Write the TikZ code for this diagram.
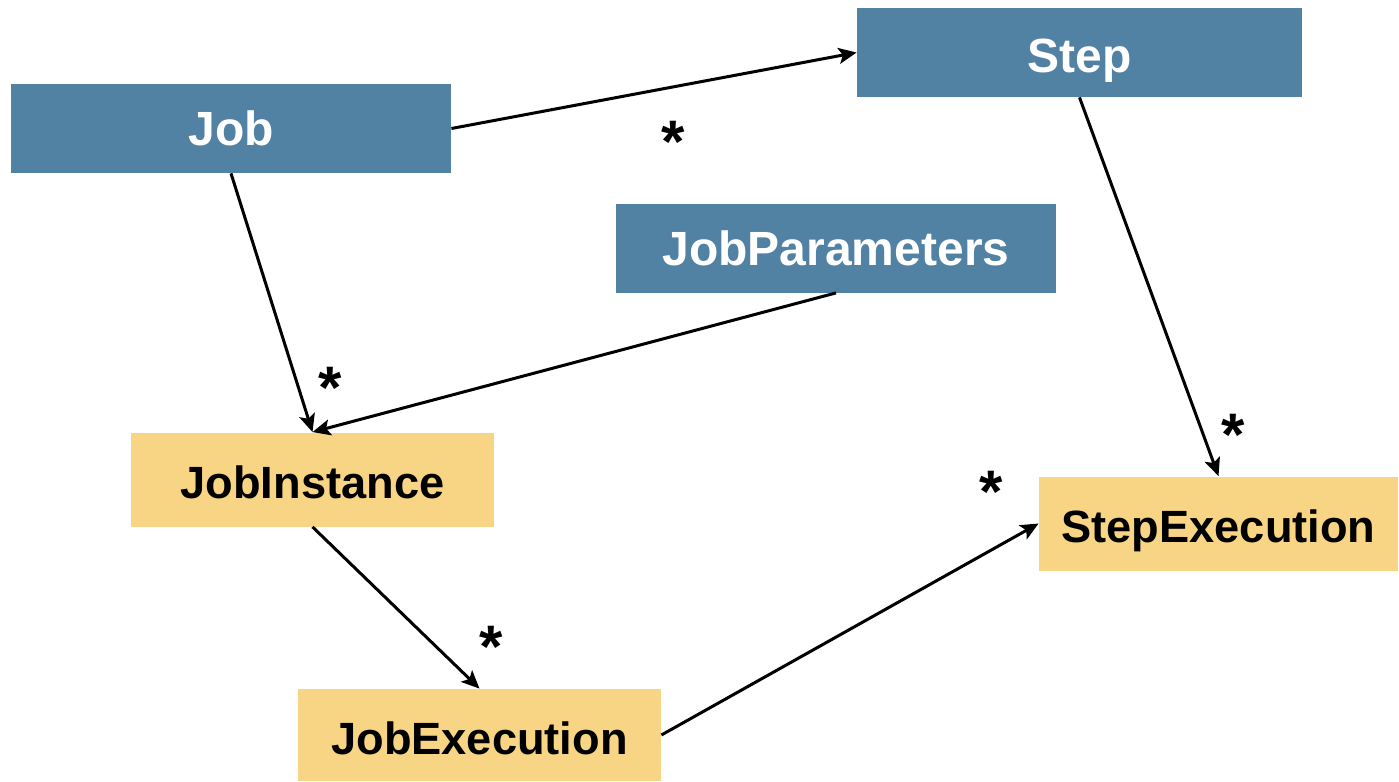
\documentclass[tikz,border=0pt]{standalone}
\usepackage{fontspec}
\setmainfont{Liberation Sans}
\usetikzlibrary{positioning}
\usetikzlibrary{arrows.meta}

\definecolor{boxblue}{RGB}{82,130,163}
\definecolor{boxyellow}{RGB}{247,213,132}

\tikzset{
  bluebox/.style={fill=boxblue, text=white, minimum width=220pt, minimum height=44.5pt, font=\fontsize{24}{24}\selectfont\bfseries},
  yellowbox/.style={fill=boxyellow, text=black, minimum width=181.5pt, minimum height=47pt, font=\fontsize{22.6}{24}\selectfont\bfseries},
  link/.style={line width=1.5pt, -{Stealth[length=9pt, width=8pt, inset=2pt]}},
  mult/.style={inner sep=0pt, font=\fontsize{30}{30}\selectfont\bfseries}
}

\begin{document}
\begin{tikzpicture}[x=0.5pt, y=-0.5pt]
  \useasboundingbox (0,0) rectangle (1399,782);

  \node[bluebox] (job) at (231,128.5) {Job};
  \node[bluebox, minimum width=222.5pt, text height=24.5pt, text depth=5pt] (step) at (1079.5,52.5) {Step};
  \node[bluebox] (jobparams) at (836,248) {JobParameters};
  \node[yellowbox, text height=18.5pt, text depth=0pt] (jobinst) at (312.5,479.5) {JobInstance};
  \node[yellowbox, minimum width=179.5pt, text height=23.5pt, text depth=5pt] (stepexec) at (1218.5,523.5) {StepExecution};
  \node[yellowbox, minimum height=46pt, text height=19.5pt, text depth=0pt] (jobexec) at (479.5,735) {JobExecution};

  \draw[link] (job.east) -- (step.west);             % job has steps
  \draw[link] (job.south) -- (jobinst.north);        % job instances
  \draw[link] (jobparams.south) -- (jobinst.north);
  \draw[link] (step.south) -- (stepexec.north);
  \draw[link] (jobinst.south) -- (jobexec.north);    % executions
  \draw[link] (jobexec.east) -- (stepexec.west);

  % multiplicities
  \node[mult] (m1) at (673,142) {*};
  \node[mult] (m2) at (330,388) {*};
  \node[mult] (m3) at (1233,435) {*};
  \node[mult] (m4) at (991,492) {*};
  \node[mult] (m5) at (491,647) {*};
\end{tikzpicture}
\end{document}
